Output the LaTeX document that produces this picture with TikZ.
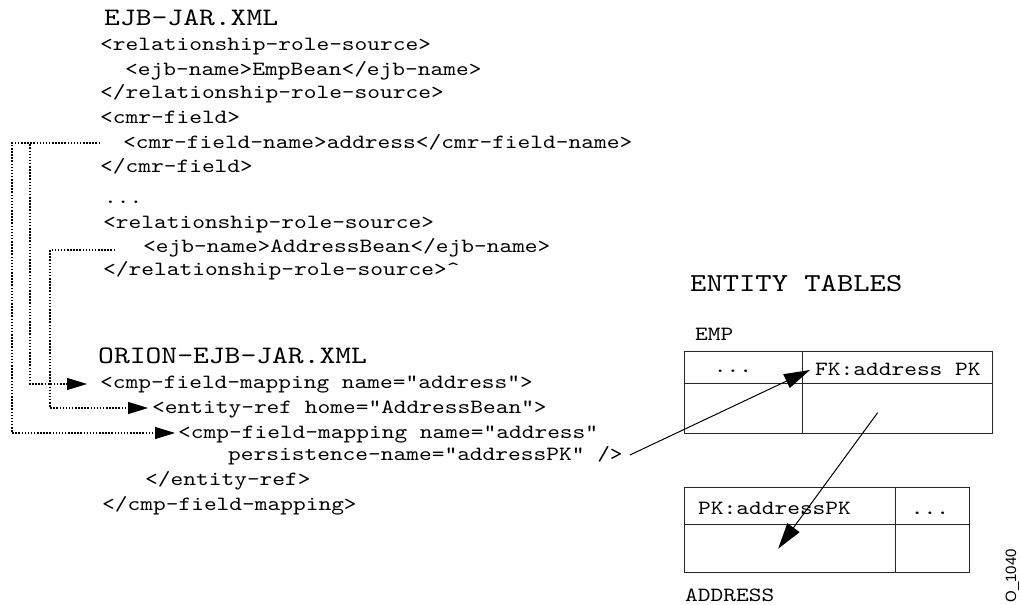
\documentclass[tikz,border=0pt]{standalone}
\usepackage{fontspec}
\setsansfont{Liberation Sans}
\newfontfamily\xmlmono{lmmono10-regular}[Extension=.otf, FakeStretch=1.2]
\usetikzlibrary{calc, positioning, arrows.meta}

\newcommand{\xmlfont}{\xmlmono\fontsize{20.2}{24}\selectfont}
\newcommand{\headfont}{\xmlmono\fontsize{25.1}{30}\selectfont}

\begin{document}
\begin{tikzpicture}[x=1pt, y=-1pt,
    code/.style={anchor=base west, inner sep=0pt, font=\xmlfont},
    heading/.style={anchor=base west, inner sep=0pt, font=\headfont},
    cell/.style={rectangle, draw=black!85, line width=1.3pt, anchor=north west, inner sep=0pt},
    dotlink/.style={line width=1.1pt, dash pattern=on 1.5pt off 1.6pt, -{Triangle[length=20pt, width=12pt]}},
    reflink/.style={line width=1pt, -{Triangle[length=26pt, width=15pt]}}]
  \useasboundingbox (0,0) rectangle (1021,605);

  % EJB-JAR.XML listing
  \node[heading] (ejbtitle) at (104,25) {EJB-JAR.XML};
  \node[code] (relsrc1) at (100,50) {<relationship-role-source>};
  \node[code] (ejbname1) at (125,75) {<ejb-name>EmpBean</ejb-name>};
  \node[code] (relend1) at (100,98) {</relationship-role-source>};
  \node[code] (cmrfield) at (100,123) {<cmr-field>};
  \node[code] (cmrname) at (123,148) {<cmr-field-name>address</cmr-field-name>};
  \node[code] (cmrend) at (100,172) {</cmr-field>};
  \node[code] (skip) at (104,203) {...};
  \node[code] (relsrc2) at (103,228) {<relationship-role-source>};
  \node[code] (ejbname2) at (143,252) {<ejb-name>AddressBean</ejb-name>};
  \node[code] (relend2) at (103,275) {</relationship-role-source>\textasciicircum};

  % ORION-EJB-JAR.XML listing
  \node[heading] (oriontitle) at (98,363) {ORION-EJB-JAR.XML};
  \node[code] (cmpmap1) at (100,388) {<cmp-field-mapping name="address">};
  \node[code] (entref) at (152,413) {<entity-ref home="AddressBean">};
  \node[code] (cmpmap2) at (178,438) {<cmp-field-mapping name="address"};
  \node[code] (persist) at (228,460) {persistence-name="addressPK" />};
  \node[code] (entrefend) at (145,485) {</entity-ref>};
  \node[code] (cmpend) at (102,510) {</cmp-field-mapping>};

  % entity tables
  \node[heading, font=\xmlmono\fontsize{25.9}{30}\selectfont] (tablestitle) at (690,291) {ENTITY TABLES};
  \node[code] (emptitle) at (695,340) {EMP};
  \node[cell, minimum width=118pt, minimum height=32pt] (empdots) at (684,351) {};
  \node[cell, minimum width=190pt, minimum height=32pt] (empfk) at (802,351) {};
  \node[cell, minimum width=118pt, minimum height=50pt] (empbl) at (684,383) {};
  \node[cell, minimum width=190pt, minimum height=50pt] (empbr) at (802,383) {};
  \node[code, anchor=base] (empskip) at (733,372) {...};
  \node[code] (fklabel) at (815,375) {FK:address PK};

  \node[cell, minimum width=211pt, minimum height=37pt] (addrpk) at (684,487) {};
  \node[cell, minimum width=74pt, minimum height=37pt] (addrdots) at (895,487) {};
  \node[cell, minimum width=211pt, minimum height=48pt] (addrbl) at (684,524) {};
  \node[cell, minimum width=74pt, minimum height=48pt] (addrbr) at (895,524) {};
  \node[code] (pklabel) at (698,514) {PK:addressPK};
  \node[code, anchor=base] (addrskip) at (930,514) {...};
  \node[code] (addrtitle) at (685,601) {ADDRESS};

  \node[rotate=90, anchor=base east, inner sep=0pt, font=\sffamily\fontsize{15}{18}\selectfont] (figid) at (1016,549) {O\_1040};

  % dotted rails from the ejb-jar names to the orion mappings
  \coordinate (outerrail) at (12,0);
  \coordinate (innerrail) at (30,0);
  \coordinate (beanrail) at (50,0);
  \coordinate (fieldsrc) at ([xshift=-23pt, yshift=5pt]cmrname.base west);
  \coordinate (beansrc) at ([xshift=-28pt, yshift=2pt]ejbname2.base west);
  \draw[dotlink] (fieldsrc) -- (fieldsrc -| innerrail) |- ([xshift=-13pt, yshift=4pt]cmpmap1.base west);
  \draw[dotlink] (fieldsrc) -- (fieldsrc -| outerrail) |- ([xshift=-3pt, yshift=5pt]cmpmap2.base west);
  \draw[dotlink] (beansrc) -- (beansrc -| beanrail) |- ([xshift=-4pt, yshift=5pt]entref.base west);

  % column to key links
  \draw[reflink] ([xshift=7pt, yshift=5pt]persist.base east) -- ([xshift=-5pt, yshift=5pt]fklabel.base west);
  \draw[reflink] ([xshift=-20pt, yshift=-4pt]empbr.center) -- ([xshift=-12pt]addrbl.center);
\end{tikzpicture}
\end{document}
